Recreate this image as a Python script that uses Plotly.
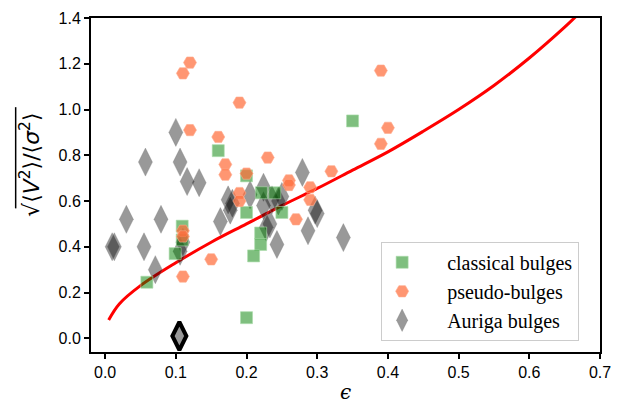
import plotly.graph_objects as go

# theoretical curve
eps_curve = [0.005, 0.02, 0.05, 0.1, 0.15, 0.2, 0.25, 0.3, 0.35, 0.4, 0.45, 0.5, 0.55, 0.6, 0.65, 0.667]
vs_curve = [0.08, 0.15, 0.23, 0.33, 0.42, 0.50, 0.58, 0.655, 0.735, 0.815, 0.905, 1.0, 1.105, 1.225, 1.36, 1.41]

# classical bulges
cl_eps = [0.35, 0.16, 0.20, 0.109, 0.109, 0.099, 0.059, 0.20, 0.221, 0.24, 0.20, 0.25, 0.22, 0.22, 0.21]
cl_vs = [0.95, 0.82, 0.71, 0.49, 0.43, 0.37, 0.245, 0.09, 0.636, 0.636, 0.55, 0.55, 0.46, 0.41, 0.36]

# pseudo-bulges
ps_eps = [0.12, 0.11, 0.19, 0.12, 0.16, 0.23, 0.17, 0.17, 0.20, 0.26, 0.26, 0.32, 0.29, 0.29,
          0.19, 0.19, 0.27, 0.15, 0.11, 0.11, 0.11, 0.39, 0.40, 0.39]
ps_vs = [1.205, 1.158, 1.03, 0.91, 0.88, 0.79, 0.76, 0.715, 0.72, 0.69, 0.67, 0.73, 0.66, 0.605,
         0.635, 0.60, 0.52, 0.345, 0.47, 0.445, 0.27, 1.17, 0.92, 0.85]

# Auriga bulges
au_eps = [0.10, 0.057, 0.106, 0.116, 0.133, 0.03, 0.079, 0.01, 0.013, 0.055, 0.071, 0.106, 0.11,
          0.174, 0.18, 0.163, 0.205, 0.224, 0.224, 0.236, 0.25, 0.245, 0.279, 0.297, 0.30,
          0.287, 0.233, 0.228, 0.243, 0.337, 0.177]
au_vs = [0.90, 0.77, 0.77, 0.685, 0.68, 0.52, 0.52, 0.40, 0.40, 0.40, 0.30, 0.38, 0.42,
         0.605, 0.59, 0.51, 0.627, 0.66, 0.58, 0.605, 0.62, 0.60, 0.725, 0.56, 0.545,
         0.47, 0.50, 0.485, 0.41, 0.44, 0.56]

# highlighted Auriga bulge
hl_eps = [0.105]
hl_vs = [0.01]

x_ticks = [0.0, 0.1, 0.2, 0.3, 0.4, 0.5, 0.6, 0.7]
y_ticks = [0.0, 0.2, 0.4, 0.6, 0.8, 1.0, 1.2, 1.4]

NB = "\u00a0"

fig = go.Figure()

fig.add_trace(go.Scatter(x=eps_curve, y=vs_curve, mode="lines", line=dict(color="red", width=3, shape="spline"),
                         showlegend=False, hoverinfo="skip"))

fig.add_trace(go.Scatter(x=au_eps, y=au_vs, mode="markers", name=NB * 5 + "Auriga bulges", legendrank=3,
                         legendgroup="c",
                         marker=dict(symbol="diamond-tall", size=20, color="rgba(0,0,0,0.4)",
                                     line=dict(width=0.8, color="rgba(120,120,120,0.4)"))))

fig.add_trace(go.Scatter(x=cl_eps, y=cl_vs, mode="markers", name=NB * 5 + "classical bulges", legendrank=1,
                         legendgroup="a",
                         marker=dict(symbol="square", size=12, color="rgba(0,128,0,0.5)",
                                     line=dict(width=1, color="rgba(170,220,170,0.6)"))))

fig.add_trace(go.Scatter(x=ps_eps, y=ps_vs, mode="markers", name=NB * 5 + "pseudo-bulges", legendrank=2,
                         legendgroup="b",
                         marker=dict(symbol="hexagon2", size=13, color="rgba(255,110,60,0.72)",
                                     line=dict(width=1, color="rgba(255,170,140,0.6)"))))

fig.add_trace(go.Scatter(x=hl_eps, y=hl_vs, mode="markers", showlegend=False,
                         marker=dict(symbol="diamond-tall", size=20, color="rgba(0,0,0,0.4)",
                                     line=dict(width=4, color="black"))))

axis_common = dict(showline=True, linewidth=2, linecolor="black", mirror=True,
                   ticks="outside", ticklen=5, tickwidth=1.5, tickcolor="black",
                   showgrid=False, zeroline=False, automargin=False,
                   tickfont=dict(family="Liberation Sans", size=16, color="black"))

fig.update_xaxes(range=[-0.02, 0.7], tickvals=x_ticks, ticktext=[f"{v:.1f}" for v in x_ticks],
                 title=dict(text="<i>ϵ</i>", font=dict(family="DejaVu Serif", size=20, color="black"), standoff=6),
                 **axis_common)
fig.update_yaxes(range=[-0.06, 1.4], tickvals=y_ticks, ticktext=[f"{v:.1f}" for v in y_ticks],
                 **axis_common)

fig.add_annotation(text="√⟨<i>V</i><sup>2</sup>⟩/⟨<i>σ</i><sup>2</sup>⟩", xref="paper", yref="paper",
                   x=-0.12, y=0.56, xanchor="center", yanchor="middle", textangle=-90, showarrow=False,
                   font=dict(family="DejaVu Sans", size=22, color="black"))

# overline of the square root
fig.add_shape(type="line", xref="paper", yref="paper", x0=-0.148, x1=-0.148, y0=0.733, y1=0.43,
              line=dict(color="black", width=1.5))

fig.update_layout(
    width=620, height=404,
    margin=dict(l=91, r=20, t=18, b=52),
    plot_bgcolor="white", paper_bgcolor="white",
    legend=dict(x=0.57, y=0.33, xanchor="left", yanchor="top",
                bgcolor="rgba(255,255,255,0.8)", bordercolor="#cccccc", borderwidth=1,
                font=dict(family="Liberation Serif", size=20, color="black"),
                itemsizing="trace", traceorder="grouped", tracegroupgap=0),
)

fig.write_html("out.html", config={"displayModeBar": False},
               post_script="document.body.style.margin='0';")
